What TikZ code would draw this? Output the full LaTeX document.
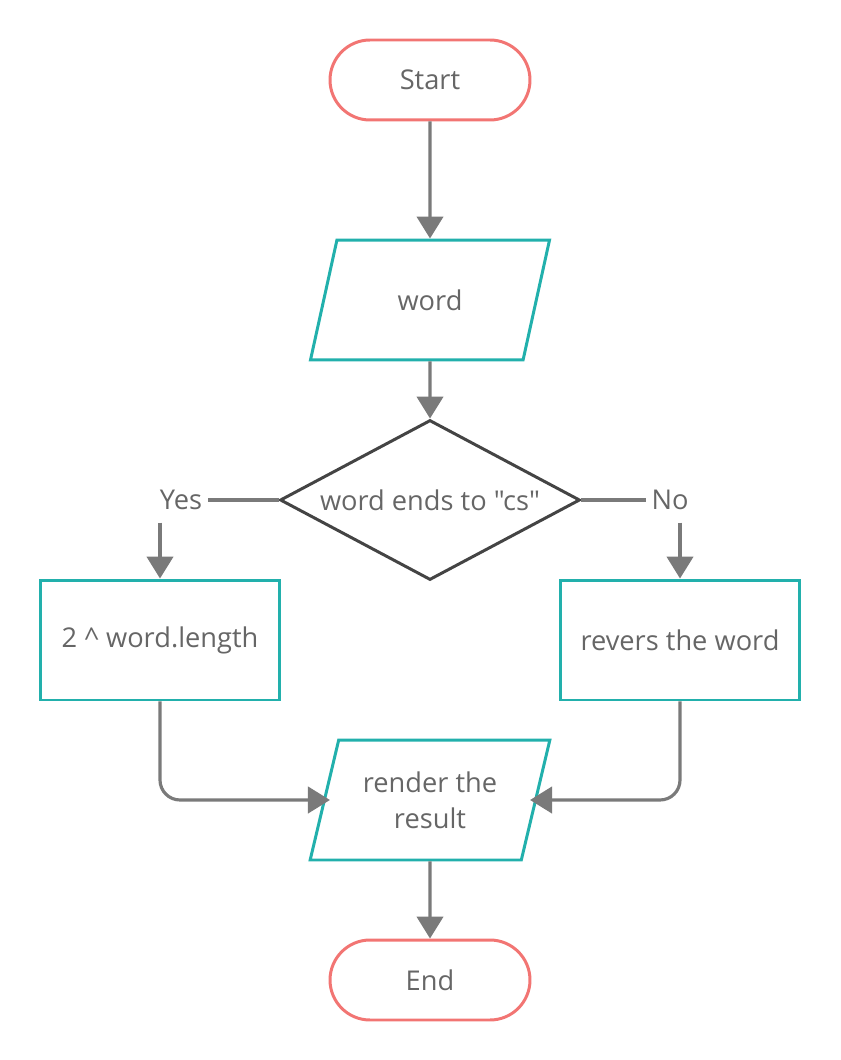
\documentclass[tikz,border=0pt]{standalone}
\usepackage{fontspec}
\setmainfont{Open Sans}[Ligatures=TeXOff]
\usepackage{xcolor}
\usetikzlibrary{shapes.geometric,arrows.meta}

\definecolor{termred}{HTML}{F27573}
\definecolor{ioteal}{HTML}{22B0AC}
\definecolor{decgray}{HTML}{444444}
\definecolor{flowgray}{HTML}{7A7A7A}
\definecolor{txtgray}{HTML}{666666}

\begin{document}
\begin{tikzpicture}[x=0.02cm,y=-0.02cm,
  font=\fontsize{15.5pt}{20.4pt}\selectfont, text=txtgray,
  terminal/.style={draw=termred, line width=1.7pt, rounded corners=0.8cm,
    minimum width=4cm, minimum height=1.6cm},
  iobox/.style={draw=ioteal, line width=1.7pt, trapezium, trapezium stretches=true,
    trapezium left angle=71.57, trapezium right angle=108.43,
    minimum width=4.8cm, minimum height=2.4cm, align=center},
  procbox/.style={draw=ioteal, line width=1.7pt, minimum width=4.8cm, minimum height=2.4cm},
  decision/.style={draw=decgray, line width=1.7pt, diamond, aspect=1.875,
    minimum width=6cm, minimum height=3.2cm, inner sep=0pt},
  flow/.style={draw=flowgray, line width=1.8pt, -{Triangle[width=15pt,length=12.5pt]}},
  link/.style={draw=flowgray, line width=1.8pt}]
\useasboundingbox (0,0) rectangle (840,1060);

\node[terminal] (start) at (430,80) {Start};
\node[iobox] (word) at (430,300) {word};
\node[decision] (ends) at (430,500) {word ends to "cs"};
\node[inner sep=3pt] (yes) at (181,500) {Yes};
\node[inner sep=3pt] (no) at (670,500) {No};
\node[procbox] (power) at (160,640) {2 \^{} word.length};
\node[procbox] (revers) at (680,640) {revers the word};
\node[iobox] (render) at (430,800) {render the\\result};
\node[terminal] (end) at (430,980) {End};

\draw[flow] (start) -- (word);
\draw[flow] (word) -- (ends);
\draw[link] (ends.west) -- (yes.east);
\draw[link] (ends.east) -- (no.west);
\draw[flow] ([yshift=-4pt]yes.south -| power.north) -- (power.north);
\draw[flow] ([yshift=-4pt]no.south -| revers.north) -- (revers.north);
\draw[flow, rounded corners=0.4cm, shorten >=-4pt] (power.south) |- (render.left side);
\draw[flow, rounded corners=0.4cm, shorten >=-4pt] (revers.south) |- (render.right side);
\draw[flow] (render) -- (end);
\end{tikzpicture}
\end{document}
